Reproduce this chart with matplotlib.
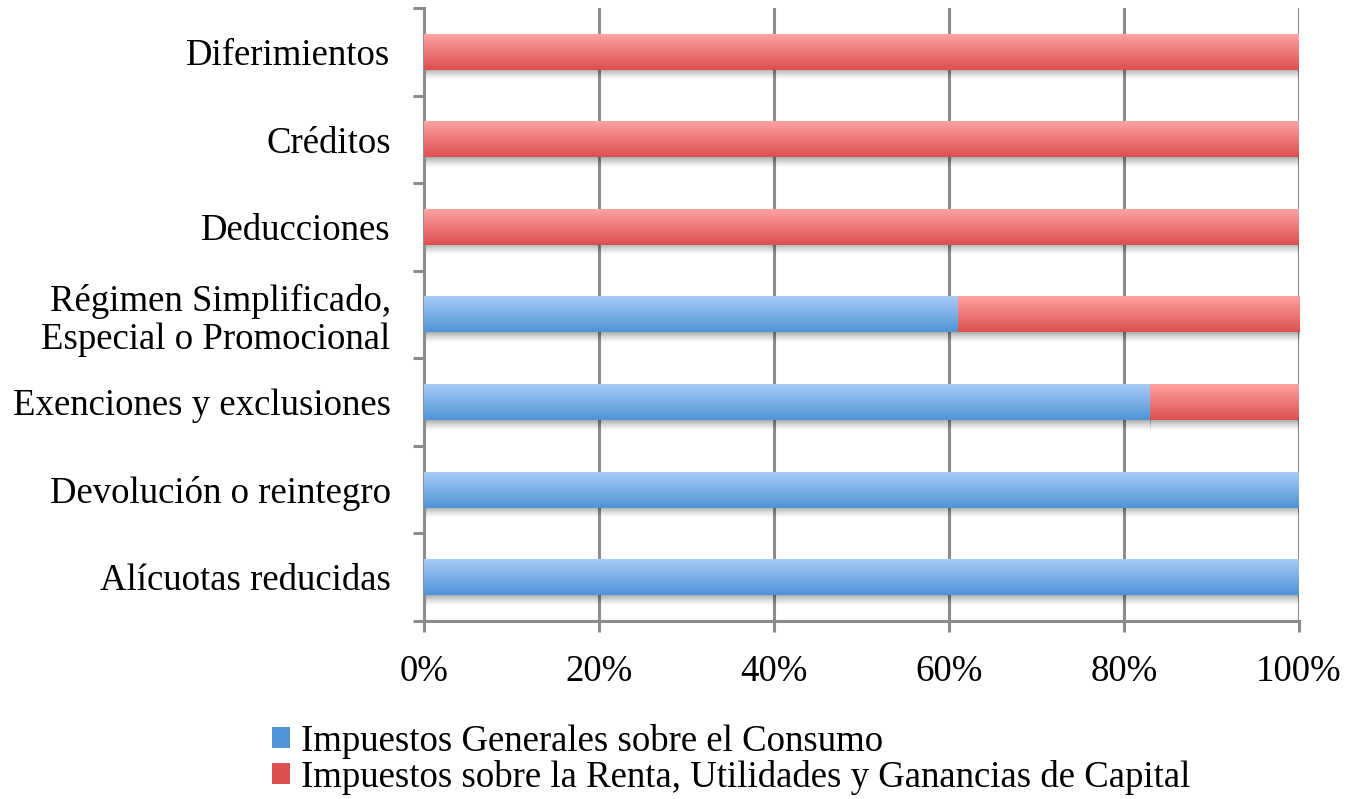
import numpy as np
import matplotlib
matplotlib.use('Agg')
import matplotlib.pyplot as plt
from matplotlib.colors import LinearSegmentedColormap
from matplotlib.ticker import FixedLocator, PercentFormatter

plt.rcParams['font.family'] = ['Liberation Serif', 'DejaVu Serif']

# categories bottom to top
categories = ['Alícuotas reducidas', 'Devolución o reintegro', 'Exenciones y exclusiones',
              'Régimen Simplificado,\nEspecial o Promocional', 'Deducciones', 'Créditos',
              'Diferimientos']
consumo = [100, 100, 83, 61, 0, 0, 0]
renta = [0, 0, 17, 39, 100, 100, 100]
series_names = ['Impuestos Generales sobre el Consumo',
                'Impuestos sobre la Renta, Utilidades y Ganancias de Capital']

blue_light, blue_dark = '#a8cbf6', '#4e94d6'
red_light, red_dark = '#fda2a2', '#dc4f4f'
grid_col = '#8c8c8c'
fs = 26.5

fig = plt.figure(figsize=(13.49, 7.99), dpi=100)
ax = fig.add_axes([424/1349, 1-621/799, (1299-424)/1349, (621-8)/799])

y = np.arange(len(categories))
h = 0.41
b1 = ax.barh(y, consumo, height=h, color=blue_dark, zorder=2, label=series_names[0])
b2 = ax.barh(y, renta, left=consumo, height=h, color=red_dark, zorder=2, label=series_names[1])

grad = np.linspace(0, 1, 64).reshape(-1, 1)
cmap_b = LinearSegmentedColormap.from_list('b', [blue_dark, blue_light])
cmap_r = LinearSegmentedColormap.from_list('r', [red_dark, red_light])
shadow = np.zeros((32, 1, 4))
shadow[:, 0, 3] = np.linspace(0, 0.42, 32) ** 1.3

#gradient fill and soft shadow on each bar segment
for bars, cm in [(b1, cmap_b), (b2, cmap_r)]:
    for r in bars:
        x0, y0, w, hh = r.get_x(), r.get_y(), r.get_width(), r.get_height()
        if w <= 0:
            continue
        ax.imshow(grad, cmap=cm, origin='lower', aspect='auto',
                  extent=[x0, x0 + w, y0, y0 + hh], zorder=3)
        ax.imshow(shadow, origin='lower', aspect='auto',
                  extent=[x0, x0 + w, y0 - 0.12, y0], zorder=2.5)

ax.set_xlim(0, 100)
ax.set_ylim(-0.5, len(categories) - 0.5)
ax.xaxis.set_major_locator(FixedLocator([0, 20, 40, 60, 80, 100]))
ax.xaxis.set_major_formatter(PercentFormatter(decimals=0))
ax.set_yticks(y)
ax.set_yticklabels(categories, linespacing=1.15)
ax.yaxis.set_minor_locator(FixedLocator(np.arange(-0.5, len(categories), 1)))

ax.set_axisbelow(True)
ax.grid(axis='x', color=grid_col, linewidth=2.2)
for s in ['top', 'right']:
    ax.spines[s].set_visible(False)
for s in ['left', 'bottom']:
    ax.spines[s].set_color(grid_col)
    ax.spines[s].set_linewidth(2.2)

ax.tick_params(axis='y', which='major', length=0, pad=24, labelsize=fs)
ax.tick_params(axis='y', which='minor', length=8, width=2.2, color=grid_col)
ax.tick_params(axis='x', which='major', length=8, width=2.2, color=grid_col, pad=16, labelsize=fs)

fig.legend(handles=[b1, b2], loc='upper left', bbox_to_anchor=(272/1349, 1-724/799),
           frameon=False, fontsize=fs, handlelength=0.5, handleheight=0.5,
           handletextpad=0.3, labelspacing=0.02, borderpad=0, borderaxespad=0)

fig.savefig('out.png', dpi=100)
